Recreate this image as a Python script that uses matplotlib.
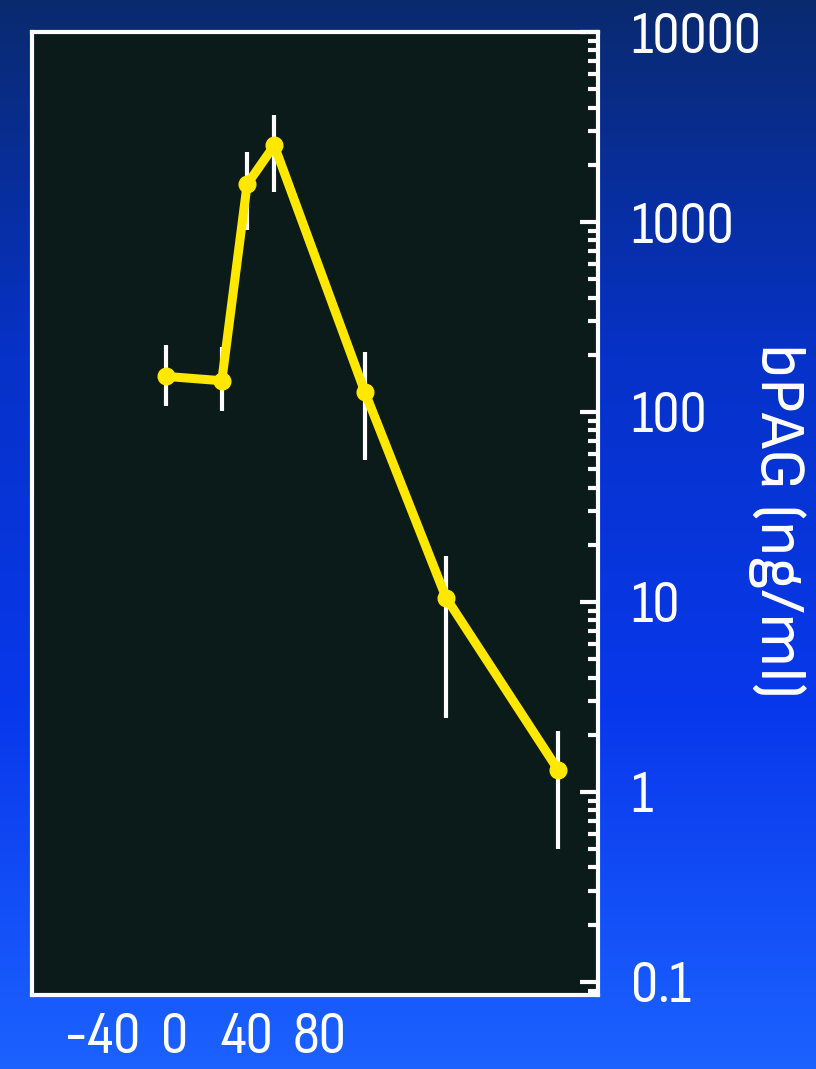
import matplotlib
matplotlib.use("Agg")
import matplotlib.pyplot as plt
from matplotlib.colors import LinearSegmentedColormap
from matplotlib.ticker import LogLocator, NullFormatter, FixedLocator
import numpy as np

# data (x in the units of the printed tick labels)
days = [-5, 26, 40, 55, 105, 150, 212]
bpag = [154, 146, 1580, 2530, 128, 10.5, 1.3]
err_low = [107, 101, 907, 1435, 56, 2.45, 0.5]
err_high = [226, 220, 2330, 3680, 208, 17.5, 2.1]

x_ticks = [-40, 0, 40, 80]
y_ticks = [0.1, 1, 10, 100, 1000, 10000]
y_tick_labels = ["0.1", "1", "10", "100", "1000", "10000"]
y_label = "bPAG (ng/ml)"

plt.rcParams['font.family'] = ['Sofia Sans Condensed', 'Liberation Sans Narrow', 'DejaVu Sans']

fig = plt.figure(figsize=(8.16, 10.69), dpi=100)

# blue slide background
bg = fig.add_axes([0, 0, 1, 1], zorder=-10)
bg_cmap = LinearSegmentedColormap.from_list(
    "slide", ["#0a2a6e", "#0632c8", "#0838ec", "#1c62ff"])
bg.imshow(np.linspace(0, 1, 256).reshape(-1, 1), aspect="auto",
          cmap=bg_cmap, extent=[0, 1, 0, 1])
bg.axis("off")

ax = fig.add_axes([0.039, 0.069, 0.694, 0.901])
ax.set_facecolor("#0a1b19")

ax.set_yscale("log")
ax.set_xlim(-79, 234)
ax.set_ylim(0.085, 10000)

lower = np.array(bpag) - np.array(err_low)
upper = np.array(err_high) - np.array(bpag)
ax.errorbar(days, bpag, yerr=[lower, upper], fmt="none", ecolor="white",
            elinewidth=3, capsize=0, zorder=2)
ax.plot(days, bpag, color="#ffe800", linewidth=6.5, marker="o",
        markersize=12, solid_joinstyle="round", zorder=3)

for side in ax.spines.values():
    side.set_color("white")
    side.set_linewidth(3)

ax.yaxis.tick_right()
ax.yaxis.set_major_locator(FixedLocator(y_ticks))
ax.set_yticklabels(y_tick_labels)
ax.yaxis.set_minor_locator(LogLocator(base=10, subs=np.arange(2, 10)))
ax.yaxis.set_minor_formatter(NullFormatter())
ax.tick_params(axis="y", which="major", direction="in", length=13, width=3,
               colors="white", labelsize=44, pad=24)
ax.tick_params(axis="y", which="minor", direction="in", length=7, width=3,
               colors="white")

ax.set_xticks(x_ticks)
ax.set_xticklabels([str(t) for t in x_ticks])
ax.tick_params(axis="x", length=0, colors="white", labelsize=44, pad=12)

fig.text(0.952, 0.513, y_label, rotation=270, color="white", fontsize=46,
         ha="center", va="center",
         family=['Sofia Sans', 'Liberation Sans', 'DejaVu Sans'])

fig.savefig("out.png", dpi=100, facecolor=fig.get_facecolor())
